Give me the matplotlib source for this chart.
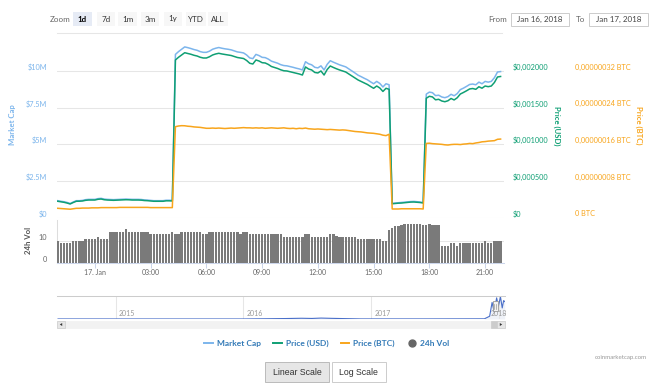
import numpy as np
import matplotlib
matplotlib.use("Agg")
import matplotlib.pyplot as plt
import matplotlib.dates as mdates
import matplotlib.transforms as mtransforms
from matplotlib.patches import Rectangle, Polygon
from matplotlib.lines import Line2D
from matplotlib.ticker import FuncFormatter
from datetime import datetime, timedelta

plt.rcParams['font.family'] = ['Lato', 'DejaVu Sans']

# ---------------- data ----------------
start_time = datetime(2018, 1, 16, 22, 0)
interval_minutes = 10

market_cap_musd = [
    1.16, 1.12, 1.09, 1.04, 0.97, 1.07, 1.16, 1.16, 1.18, 1.23, 1.25, 1.25, 1.25, 1.30, 1.32, 1.27,
    1.25, 1.24, 1.23, 1.24, 1.25, 1.26, 1.27, 1.26, 1.25, 1.25, 1.25, 1.24, 1.21, 1.20, 1.18, 1.16,
    1.16, 1.16, 1.16, 1.19, 1.19, 1.18,
    11.13, 11.32, 11.48, 11.64, 11.59, 11.53, 11.46, 11.41, 11.32, 11.27, 11.27, 11.35, 11.48, 11.55,
    11.60, 11.55, 11.51, 11.48, 11.44, 11.37, 11.30, 11.27, 11.23, 11.09, 10.89, 10.84, 11.13, 11.05,
    10.93, 10.91, 10.81, 10.67, 10.60, 10.53, 10.43, 10.37, 10.35, 10.30, 10.25, 10.19, 10.14, 10.07,
    10.63, 10.49, 10.42, 10.25, 10.21, 10.35, 10.07, 10.45, 10.70, 10.60, 10.51, 10.42, 10.35, 10.28,
    10.14, 10.00, 9.86, 9.71, 9.61, 9.50, 9.40, 9.26, 9.13, 9.29, 9.15, 8.91, 9.13, 9.06,
    0.98, 1.00, 1.02, 1.04, 1.06, 1.08, 1.10, 1.11, 1.09, 1.07, 1.04,
    8.42, 8.56, 8.52, 8.32, 8.35, 8.23, 8.18, 8.25, 8.41, 8.31, 8.46, 8.73, 8.83, 8.95, 9.08, 9.11,
    9.06, 9.24, 9.13, 9.29, 9.24, 9.29, 9.54, 9.93, 9.96,
]

price_usd_micro = [
    224, 217, 210, 200, 187, 207, 224, 225, 228, 237, 241, 241, 241, 251, 255, 245,
    241, 239, 237, 239, 241, 244, 245, 244, 241, 241, 241, 239, 234, 232, 228, 224,
    224, 224, 224, 230, 230, 228,
    2150, 2187, 2218, 2249, 2239, 2228, 2214, 2204, 2187, 2177, 2177, 2194, 2218, 2232,
    2241, 2232, 2225, 2218, 2211, 2198, 2184, 2177, 2170, 2143, 2105, 2095, 2150, 2136,
    2113, 2109, 2089, 2061, 2048, 2034, 2016, 2003, 2000, 1990, 1980, 1970, 1959, 1945,
    2055, 2027, 2014, 1980, 1973, 2000, 1945, 2020, 2068, 2048, 2030, 2014, 2000, 1986,
    1959, 1932, 1905, 1877, 1857, 1836, 1816, 1789, 1764, 1795, 1768, 1721, 1764, 1750,
    190, 194, 198, 200, 204, 209, 213, 214, 211, 207, 200,
    1628, 1655, 1646, 1607, 1614, 1591, 1581, 1594, 1625, 1605, 1635, 1686, 1707, 1730, 1755, 1761,
    1750, 1785, 1765, 1795, 1786, 1795, 1843, 1918, 1925,
]

price_btc_sat = [
    2.05, 2.0, 1.95, 1.9, 1.85, 1.95, 2.05, 2.05, 2.1, 2.1, 2.1, 2.15, 2.15, 2.15, 2.2, 2.2,
    2.2, 2.2, 2.2, 2.2, 2.25, 2.25, 2.25, 2.25, 2.25, 2.25, 2.25, 2.25, 2.25, 2.25, 2.2, 2.2,
    2.2, 2.2, 2.2, 2.2, 2.2, 2.2,
    19.85, 20.0, 20.07, 20.05, 19.95, 19.9, 19.8, 19.75, 19.7, 19.6, 19.5, 19.5, 19.55, 19.5,
    19.55, 19.5, 19.45, 19.5, 19.55, 19.5, 19.55, 19.6, 19.65, 19.6, 19.6, 19.55, 19.6, 19.55,
    19.6, 19.5, 19.55, 19.6, 19.55, 19.5, 19.55, 19.6, 19.5, 19.45, 19.5, 19.4, 19.5, 19.45,
    19.55, 19.4, 19.35, 19.3, 19.35, 19.3, 19.25, 19.2, 19.25, 19.2, 19.15, 19.1, 19.15, 19.1,
    19.0, 18.9, 18.8, 18.75, 18.7, 18.6, 18.5, 18.45, 18.4, 18.3, 18.2, 18.0, 17.9, 18.2,
    1.9, 1.9, 1.9, 1.95, 1.95, 1.95, 1.95, 1.95, 1.95, 1.95, 1.9,
    16.2, 16.25, 16.15, 16.1, 16.05, 16.0, 15.9, 15.85, 15.95, 16.0, 16.0, 15.95, 16.05, 16.1, 16.2, 16.15,
    16.3, 16.4, 16.55, 16.6, 16.7, 16.75, 16.8, 17.1, 17.15,
]

volume_24h = [
    10.0, 9.0, 9.0, 9.0, 9.0, 10.0, 10.0, 10.0, 10.0, 10.9, 10.9, 10.9, 10.9, 12.0, 10.9, 10.9,
    10.9, 14.0, 14.0, 14.0, 14.0, 14.0, 15.3, 14.0, 14.0, 14.0, 14.0, 14.0, 14.0, 14.0, 13.0, 13.0,
    13.0, 13.0, 13.0, 13.0, 13.0, 14.0, 13.0, 13.0, 14.0, 14.0, 14.0, 14.0, 14.0, 14.0, 14.0, 13.0,
    13.0, 14.0, 14.0, 14.0, 14.0, 14.0, 14.0, 14.0, 14.0, 14.0, 14.0, 13.0, 14.0, 14.0, 13.0, 13.0,
    13.0, 13.0, 13.0, 13.0, 13.0, 13.0, 13.0, 13.0, 13.0, 12.0, 12.0, 12.0, 12.0, 12.0, 12.0, 12.0,
    13.0, 13.0, 12.0, 12.0, 12.0, 12.0, 12.0, 12.0, 13.0, 13.0, 12.4, 12.0, 12.0, 12.0, 12.0, 12.0,
    12.0, 10.9, 10.9, 10.9, 10.9, 10.9, 10.9, 10.9, 10.9, 10.0, 10.0, 14.8, 16.0, 16.8, 16.8, 17.3,
    17.8, 17.8, 17.8, 17.8, 17.8, 17.5, 17.3, 17.3, 17.8, 17.3, 17.3, 17.3, 7.9, 7.9, 7.9, 9.0,
    9.0, 7.9, 9.0, 9.0, 9.0, 9.0, 9.0, 9.0, 9.0, 9.0, 10.0, 9.0, 9.0, 10.0, 10.0, 10.0,
]

x_tick_times = [datetime(2018, 1, 17, h) for h in (0, 3, 6, 9, 12, 15, 18, 21)]
x_tick_labels = ["17. Jan", "03:00", "06:00", "09:00", "12:00", "15:00", "18:00", "21:00"]
mc_ticks_musd = [0, 2.5, 5, 7.5, 10]
usd_ticks = [0, 0.0005, 0.001, 0.0015, 0.002]
btc_ticks_sat = [0, 8, 16, 24, 32]
vol_ticks = [0, 10]

nav_dates = [datetime(2014, 7, 20), datetime(2015, 6, 1), datetime(2016, 1, 1), datetime(2016, 3, 15),
             datetime(2016, 5, 1), datetime(2016, 6, 15), datetime(2016, 7, 15), datetime(2016, 8, 10),
             datetime(2016, 9, 10), datetime(2016, 10, 20), datetime(2016, 12, 1), datetime(2017, 6, 1),
             datetime(2017, 11, 20), datetime(2017, 12, 5), datetime(2017, 12, 12), datetime(2017, 12, 18),
             datetime(2017, 12, 25), datetime(2017, 12, 30), datetime(2018, 1, 5), datetime(2018, 1, 10),
             datetime(2018, 1, 14), datetime(2018, 1, 17)]
nav_values_musd = [0.03, 0.02, 0.02, 0.15, 0.25, 0.4, 0.3, 0.5, 0.35, 0.2, 0.05, 0.05,
                   0.1, 1.5, 9.0, 4.0, 11.5, 7.0, 12.0, 6.0, 10.0, 9.5]
nav_years = [2015, 2016, 2017, 2018]

# ---------------- style ----------------
C_MC = '#7cb5ec'
C_USD = '#0f9f74'
C_BTC = '#f8a51c'
C_GRID = '#e6e6e6'
W, H = 653, 383

fig = plt.figure(figsize=(W / 100, H / 100), dpi=100)


def rect(x0, y0, x1, y1):
    return [x0 / W, 1 - y1 / H, (x1 - x0) / W, (y1 - y0) / H]


def shift_yticklabels(axis, dy_px):
    off = mtransforms.ScaledTranslation(0, dy_px / 100.0, fig.dpi_scale_trans)
    for t in axis.yaxis.get_major_ticks():
        t.label1.set_transform(t.label1.get_transform() + off)
        t.label2.set_transform(t.label2.get_transform() + off)


times = [start_time + timedelta(minutes=interval_minutes * i) for i in range(len(price_usd_micro))]
xmin = datetime(2018, 1, 16, 21, 57, 36)
xmax = datetime(2018, 1, 17, 22, 1, 0)

# ---------------- main panel ----------------
ax = fig.add_axes(rect(57, 34.3, 504, 217.7))
ax.plot(times, np.array(market_cap_musd) * 1e6, color=C_MC, lw=1.1, zorder=3)
ax.set_xlim(xmin, xmax)
ax.set_ylim(0, 12.5e6)
ax.set_yticks(np.array(mc_ticks_musd) * 1e6)
ax.yaxis.set_major_formatter(FuncFormatter(lambda v, p: '$0' if v == 0 else f'${v / 1e6:g}M'))
ax.set_xticks([])
ax.grid(axis='y', color=C_GRID, lw=0.75)
ax.set_axisbelow(True)
for s in ax.spines.values():
    s.set_visible(False)
ax.tick_params(axis='y', length=0, pad=7, labelsize=5.3, labelcolor=C_MC)

ax_usd = ax.twinx()
ax_usd.plot(times, np.array(price_usd_micro) * 1e-6, color=C_USD, lw=1.1)
ax_usd.set_ylim(0, 0.0025)
ax_usd.set_yticks(usd_ticks)
ax_usd.yaxis.set_major_formatter(FuncFormatter(
    lambda v, p: '$0' if v == 0 else ('$%.6f' % v).replace('.', ',')))
for s in ax_usd.spines.values():
    s.set_visible(False)
ax_usd.tick_params(axis='y', length=0, pad=6, labelsize=5.3, labelcolor=C_USD)

ax_btc = ax.twinx()
ax_btc.plot(times, np.array(price_btc_sat) * 1e-8, color=C_BTC, lw=1.1)
ax_btc.set_ylim(0, 40e-8)
ax_btc.set_yticks(np.array(btc_ticks_sat) * 1e-8)
ax_btc.yaxis.set_major_formatter(FuncFormatter(
    lambda v, p: '0 BTC' if abs(v) < 1e-12 else ('%.8f' % v).replace('.', ',') + ' BTC'))
ax_btc.spines['right'].set_position(('outward', 45.1))
for s in ax_btc.spines.values():
    s.set_visible(False)
ax_btc.tick_params(axis='y', length=0, pad=6, labelsize=5.3, labelcolor=C_BTC)

for a in (ax, ax_usd, ax_btc):
    shift_yticklabels(a, 4.4)

fig.text(12.7 / W, 1 - 125 / H, 'Market Cap', rotation=90, ha='center', va='center',
         color=C_MC, fontsize=5.6, fontweight='bold')
fig.text(557 / W, 1 - 126 / H, 'Price (USD)', rotation=270, ha='center', va='center',
         color=C_USD, fontsize=5.6, fontweight='bold')
fig.text(639 / W, 1 - 125 / H, 'Price (BTC)', rotation=270, ha='center', va='center',
         color=C_BTC, fontsize=5.6, fontweight='bold')

# ---------------- volume panel ----------------
axv = fig.add_axes(rect(57, 220, 504, 263))
axv.bar(times, volume_24h, width=0.75 * interval_minutes / 1440, color='#7a7a7a', lw=0, zorder=3)
axv.set_xlim(xmin, xmax)
axv.set_ylim(0, 19.5)
axv.set_yticks(vol_ticks)
axv.grid(axis='y', color=C_GRID, lw=0.75)
axv.set_axisbelow(True)
axv.set_xticks(mdates.date2num(x_tick_times))
axv.set_xticklabels(x_tick_labels)
for k in ('top', 'right'):
    axv.spines[k].set_visible(False)
axv.spines['bottom'].set_color('#ccd6eb')
axv.spines['bottom'].set_linewidth(0.75)
axv.spines['left'].set_color('#dddddd')
axv.spines['left'].set_linewidth(0.75)
axv.tick_params(axis='x', length=3.6, width=0.75, color='#ccd6eb', pad=1, labelsize=5, labelcolor='#666666')
axv.tick_params(axis='y', length=0, pad=7, labelsize=5.3, labelcolor='#666666')
shift_yticklabels(axv, 4.4)
fig.text(28.3 / W, 1 - 240 / H, '24h Vol', rotation=90, ha='center', va='center',
         color='#555555', fontsize=5.6, fontweight='bold')

# ---------------- navigator ----------------
axn = fig.add_axes(rect(57, 296, 505, 319))
axn.fill_between(nav_dates, nav_values_musd, color='#335cad', alpha=0.08, lw=0)
axn.plot(nav_dates, nav_values_musd, color='#4a6fc9', lw=0.8)
axn.set_xlim(datetime(2014, 7, 17), datetime(2018, 1, 17, 22))
axn.set_ylim(0, 12.5)
axn.set_yticks([])
axn.set_xticks([datetime(y, 1, 1) for y in nav_years])
axn.tick_params(axis='x', length=0, labelbottom=False)
axn.grid(axis='x', color=C_GRID, lw=0.75)
for k in ('bottom', 'left', 'right'):
    axn.spines[k].set_visible(False)
axn.spines['top'].set_color('#cccccc')
axn.spines['top'].set_linewidth(0.75)
for y in nav_years:
    dx = 2.2 if y < 2018 else -6
    axn.annotate(str(y), xy=(datetime(y, 1, 1), 0.22), xycoords=('data', 'axes fraction'),
                 xytext=(dx, 0), textcoords='offset points', ha='left', va='center',
                 fontsize=5, color='#999999', annotation_clip=False)

# ---------------- overlay decorations ----------------
ov = fig.add_axes([0, 0, 1, 1], zorder=10)
ov.set_xlim(0, W)
ov.set_ylim(H, 0)
ov.axis('off')
ov.patch.set_alpha(0)

# navigator handle & scrollbar
ov.add_patch(Rectangle((492.5, 301), 5, 10, fc='#f2f2f2', ec='#999999', lw=0.6))
ov.plot([494.3, 494.3], [303.5, 308.5], color='#999999', lw=0.5)
ov.plot([495.7, 495.7], [303.5, 308.5], color='#999999', lw=0.5)
ov.add_patch(Rectangle((57, 320.7), 448, 7.6, fc='#f2f2f2', ec='#f2f2f2', lw=0.5))
ov.add_patch(Rectangle((490.5, 320.7), 6.5, 7.6, fc='#cccccc', ec='#cccccc', lw=0.5))
ov.add_patch(Rectangle((57, 320.7), 8, 7.6, fc='#e6e6e6', ec='#cccccc', lw=0.5))
ov.add_patch(Rectangle((497, 320.7), 8, 7.6, fc='#e6e6e6', ec='#cccccc', lw=0.5))
ov.add_patch(Polygon([(59.8, 324.5), (62.2, 323.0), (62.2, 326.0)], closed=True, fc='#333333', ec='none'))
ov.add_patch(Polygon([(502.2, 324.5), (499.8, 323.0), (499.8, 326.0)], closed=True, fc='#333333', ec='none'))

# range selector
ov.text(50, 19, 'Zoom', fontsize=5.8, color='#666666', ha='left', va='center')
buttons = [('1d', 73.3, 91.7), ('7d', 96.7, 115), ('1m', 118, 137), ('3m', 141, 159),
           ('1y', 164, 182), ('YTD', 186, 206), ('ALL', 208, 228)]
for lab, x0, x1 in buttons:
    sel = lab == '1d'
    ov.add_patch(Rectangle((x0, 12.3), x1 - x0, 13.4, fc='#e6ebf5' if sel else '#f7f7f7', ec='none'))
    ov.text((x0 + x1) / 2, 19, lab, fontsize=5.8, color='#000000' if sel else '#333333',
            fontweight='bold' if sel else 'normal', ha='center', va='center')
ov.text(488, 19, 'From', fontsize=5.8, color='#666666', ha='left', va='center')
ov.add_patch(Rectangle((511, 12.7), 58, 13.3, fc='white', ec='#cccccc', lw=0.7))
ov.text(540, 19.3, 'Jan 16, 2018', fontsize=5.8, color='#444444', ha='center', va='center')
ov.text(576, 19, 'To', fontsize=5.8, color='#666666', ha='left', va='center')
ov.add_patch(Rectangle((589, 12.7), 59, 13.3, fc='white', ec='#cccccc', lw=0.7))
ov.text(618.5, 19.3, 'Jan 17, 2018', fontsize=5.8, color='#444444', ha='center', va='center')
ov.plot([57, 502], [33.3, 33.3], color='#e6e6e6', lw=0.75)

# bottom buttons & credit
ov.add_patch(Rectangle((265, 361.7), 64, 20.6, fc='#e6e6e6', ec='#bbbbbb', lw=0.7))
ov.text(297, 372.3, 'Linear Scale', fontsize=6.3, color='#333333', ha='center', va='center',
        family=['Liberation Sans', 'DejaVu Sans'])
ov.add_patch(Rectangle((331.7, 361.7), 54.3, 20.6, fc='white', ec='#cccccc', lw=0.7))
ov.text(358.8, 372.3, 'Log Scale', fontsize=6.3, color='#333333', ha='center', va='center',
        family=['Liberation Sans', 'DejaVu Sans'])
ov.text(647, 357, 'coinmarketcap.com', fontsize=4.4, color='#999999', ha='right', va='center')

# legend
handles = [Line2D([], [], color=C_MC, lw=1.4), Line2D([], [], color=C_USD, lw=1.4),
           Line2D([], [], color=C_BTC, lw=1.4),
           Line2D([], [], color='#666666', marker='o', ls='none', markersize=5)]
fig.legend(handles, ['Market Cap', 'Price (USD)', 'Price (BTC)', '24h Vol'], loc='center',
           bbox_to_anchor=(326.7 / W, 1 - 343.3 / H), ncol=4, frameon=False,
           prop={'weight': 'bold', 'size': 6}, handlelength=1.0, handletextpad=0.5,
           columnspacing=1.5, labelcolor='#337ab7', borderpad=0, borderaxespad=0)

fig.savefig('out.png', dpi=100)
